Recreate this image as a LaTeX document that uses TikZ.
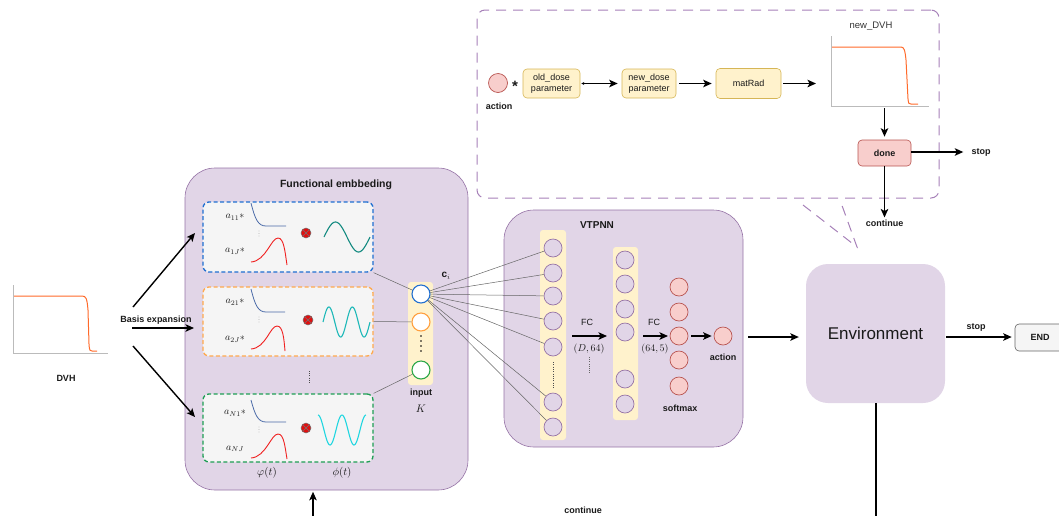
\documentclass[tikz,border=0pt]{standalone}
\usepackage{fontspec}
\setmainfont{Liberation Sans}
\usetikzlibrary{arrows.meta}
\definecolor{pfill}{HTML}{E1D5E7}
\definecolor{pline}{HTML}{9673A6}
\definecolor{yfill}{HTML}{FFF2CC}
\definecolor{yline}{HTML}{D6B656}
\definecolor{rfill}{HTML}{F8CECC}
\definecolor{rline}{HTML}{B85450}
\definecolor{gfill}{HTML}{F5F5F5}
\definecolor{gline}{HTML}{666666}
\definecolor{dashp}{HTML}{A680B8}
\definecolor{bdash}{HTML}{1F6FD1}
\definecolor{odash}{HTML}{FFA94D}
\definecolor{gdash}{HTML}{1E9E55}
\definecolor{dvhor}{HTML}{FF6A2A}
\definecolor{axg}{HTML}{BBBBBB}
\definecolor{basb}{HTML}{4A6AA8}
\definecolor{basr}{HTML}{F02020}
\definecolor{wone}{HTML}{138A80}
\definecolor{wtwo}{HTML}{1DB8B8}
\definecolor{wthree}{HTML}{1FD6E0}
\definecolor{otim}{HTML}{E01010}
\definecolor{cblue}{HTML}{2370D0}
\definecolor{corange}{HTML}{FFA040}
\definecolor{cgreen}{HTML}{2EA84A}
\definecolor{txt}{HTML}{1A1A1A}
\begin{document}
\begin{tikzpicture}[x=1pt,y=-1pt, font=\fontsize{9}{11}\selectfont, text=txt,
  lbl/.style={font=\fontsize{9}{11}\selectfont\bfseries, inner sep=0},
  mlbl/.style={font=\fontsize{10}{12}\selectfont, inner sep=0},
  arr/.style={line width=1.4pt, -{Stealth[length=8.5pt,width=7.5pt,inset=2pt]}},
  conn/.style={draw=black!60, line width=0.5pt},
  purplebox/.style={draw=pline, fill=pfill, rounded corners=30pt, inner sep=0, line width=0.6pt},
  nbox/.style={fill=gfill, rounded corners=6pt, dash pattern=on 4pt off 2.5pt, line width=1.3pt, inner sep=0, minimum width=170pt},
  pcirc/.style={circle, draw=pline, fill=pfill, minimum size=18pt, inner sep=0, line width=0.7pt},
  rcirc/.style={circle, draw=rline, fill=rfill, minimum size=18pt, inner sep=0, line width=0.7pt},
  incirc/.style={circle, fill=white, minimum size=18pt, inner sep=0, line width=1.1pt},
  ycol/.style={fill=yfill, rounded corners=3pt, inner sep=0},
  ybox/.style={draw=yline, fill=yfill, rounded corners=4pt, inner sep=0, line width=0.6pt, align=center, font=\fontsize{9}{10.5}\selectfont},
  otimes/.style={circle, fill=otim, draw=black!55, line width=0.5pt, minimum size=10pt, inner sep=0,
     path picture={\draw[black!55, line width=0.5pt] (path picture bounding box.north west) -- (path picture bounding box.south east)
       (path picture bounding box.north east) -- (path picture bounding box.south west);}},
  basb/.style={draw=basb, line width=0.8pt},
  basr/.style={draw=basr, line width=0.9pt}
]
\useasboundingbox (0,0) rectangle (1059,515);
\clip (0,0) rectangle (1059,515);

% ---------------- DVH ----------------
\draw[axg, line width=0.7pt] (13,285) -- (13,353) -- (108,353);
\draw[dvhor, line width=1pt] (14,296) -- (82,296) .. controls (86,296) and (87,298) .. (88,310) -- (89,344) .. controls (89.5,351) and (90,351) .. (92,351) -- (97,351);
\node[lbl] (dvh) at (66,378) {DVH};
\coordinate (be1) at (133,307);
\coordinate (be1t) at (195,233);
\coordinate (be2) at (132,328);
\coordinate (be2t) at (194,328);
\coordinate (be3) at (133,346);
\coordinate (be3t) at (195,417);

% ---------------- Functional embedding ----------------
\node[purplebox, minimum width=283pt, minimum height=322pt] (fe) at (326.5,329) {};
\node[lbl, font=\fontsize{10.5}{12}\selectfont\bfseries] (fetitle) at (336,185) {Functional embbeding};
\node[lbl] (bexp) at (156,320) {Basis expansion};
\draw[arr] (be1) -- (be1t);
\draw[arr] (be2) -- (be2t);
\draw[arr] (be3) -- (be3t);

\node[nbox, draw=bdash, minimum height=70pt] (b1) at (288,237) {};
\node[nbox, draw=odash, minimum height=69pt] (b2) at (288,321.5) {};
\node[nbox, draw=gdash, minimum height=68pt] (b3) at (288,428) {};

% box 1
\begin{scope}[shift={(0,202)}]
  \draw[basb] (251,1) .. controls (255,17) and (258,24) .. (266,24) -- (286,24);
  \foreach \d in {29,31.5,34} \fill[black!45] (259,\d) circle (0.45);
  \draw[basr] (251,60) .. controls (266,59) and (271,36) .. (278,36) .. controls (284,36) and (285,50) .. (287,63);
  \node[mlbl] (a11) at (235,15) {$a_{11}*$};
  \node[mlbl] (a1J) at (235,49) {$a_{1J}*$};
  \node[otimes] (ox1) at (306,31) {};
\end{scope}
\draw[wone, line width=1.1pt] plot[domain=0:1, samples=60, smooth] ({324+46*\x},{237-15*sin(360*\x)});

% box 2
\begin{scope}[shift={(0,287)}]
  \draw[basb] (251,2) .. controls (255,18) and (258,25) .. (266,25) -- (285,25);
  \foreach \d in {30,32.5,35} \fill[black!45] (259,\d) circle (0.45);
  \draw[basr] (251,62) .. controls (266,61) and (270,39) .. (277,39) .. controls (283,39) and (284,52) .. (285,64);
  \node[mlbl] (a21) at (235,15) {$a_{21}*$};
  \node[mlbl] (a2J) at (235,52) {$a_{2J}*$};
  \node[otimes] (ox2) at (308,33) {};
\end{scope}
\draw[wtwo, line width=1.1pt] plot[domain=0:1, samples=80, smooth] ({323+47*\x},{322-15*sin(720*\x)});

% box 3
\begin{scope}[shift={(0,394)}]
  \draw[basb] (251,6) .. controls (255,21) and (258,28) .. (266,28) -- (286,28);
  \foreach \d in {33,35.5,38} \fill[black!45] (259,\d) circle (0.45);
  \draw[basr] (251,64) .. controls (266,63) and (271,40) .. (278,40) .. controls (284,40) and (285,53) .. (287,65);
  \node[mlbl] (aN1) at (235,19) {$a_{N1}*$};
  \node[mlbl] (aNJ) at (235,55) {$a_{NJ}$};
  \node[otimes] (ox3) at (306,34) {};
\end{scope}
\draw[wthree, line width=1.1pt] plot[domain=0:1, samples=80, smooth] ({318+48*\x},{430-15*cos(720*\x)});

\draw[black!70, line width=0.9pt, dash pattern=on 0.9pt off 1.3pt] (309,371) -- (309,383);
\node[mlbl, font=\fontsize{11}{13}\selectfont] (vphi) at (267,473) {$\varphi(t)$};
\node[mlbl, font=\fontsize{11}{13}\selectfont] (phi) at (342,473) {$\phi(t)$};

% input column
\node[ycol, minimum width=25pt, minimum height=103pt] (incol) at (420.5,333.5) {};
\node[incirc, draw=cblue] (in1) at (421,294) {};
\node[incirc, draw=corange] (in2) at (421,322) {};
\node[incirc, draw=cgreen] (in3) at (421,370) {};
\foreach \d in {336,341,346,351} \fill[black] (421,\d) circle (0.9);
\node[lbl] (inlbl) at (421,393) {input};
\node[mlbl, font=\fontsize{11}{13}\selectfont] (klbl) at (421,409) {$K$};
\node[mlbl, font=\fontsize{10}{12}\selectfont] (ci) at (446,276) {$\mathbf{c}_i$};

\draw[conn] (b1.south east) -- (in1);
\draw[conn] (b2.east) -- (in2);
\draw[conn] (b3.north east) -- (in3);

% ---------------- VTPNN ----------------
\node[purplebox, minimum width=239pt, minimum height=237pt] (vt) at (623.5,328.5) {};
\node[lbl, font=\fontsize{10}{12}\selectfont\bfseries] (vttitle) at (597,225) {VTPNN};
\node[ycol, minimum width=26pt, minimum height=210pt] (col1) at (553,335) {};
\node[ycol, minimum width=25pt, minimum height=173pt] (col2) at (625.5,333.5) {};
\foreach \i/\y in {1/248,2/273,3/296,4/321,5/347,6/402,7/427}
  \node[pcirc] (c\i) at (553,\y) {};
\foreach \i/\y in {1/260,2/284,3/309,4/332,5/379,6/404}
  \node[pcirc] (d\i) at (625,\y) {};
\foreach \i/\y in {1/287,2/312,3/336,4/360,5/386}
  \node[rcirc] (r\i) at (679,\y) {};
\node[rcirc] (act) at (723,336) {};
\draw[black!70, line width=0.9pt, dash pattern=on 0.9pt off 1.4pt] (553,362) -- (553,388);
\draw[black!60, line width=0.8pt, dash pattern=on 0.8pt off 1.4pt] (589,357) -- (589,374);
\foreach \i in {1,...,7} \draw[conn] (in1) -- (c\i);

\coordinate (fa1) at (572,336);
\coordinate (fa1t) at (607,336);
\coordinate (fa2) at (643,336);
\coordinate (fa2t) at (668,336);
\draw[arr] (fa1) -- (fa1t);
\draw[arr] (fa2) -- (fa2t);
\node[inner sep=0] (fc1) at (587,322) {FC};
\node[mlbl] (fc1m) at (589,349) {$(D,64)$};
\node[inner sep=0] (fc2) at (654,322) {FC};
\node[mlbl] (fc2m) at (655,349) {$(64,5)$};
\draw[arr, shorten <=3pt, shorten >=2pt] (r3) -- (act);
\node[lbl] (smax) at (680,408) {softmax};
\node[lbl] (actlbl) at (723,357) {action};

% ---------------- Environment ----------------
\node[fill=pfill, rounded corners=22pt, minimum width=139pt, minimum height=139pt, inner sep=0,
      font=\fontsize{17}{20}\selectfont] (env) at (875.5,333.5) {Environment};
\coordinate (va) at (748,337);
\draw[arr, shorten >=7pt] (va) -- (env.west |- va);
\node[fill=gfill, draw=gline, line width=0.6pt, rounded corners=4pt, minimum width=50pt, minimum height=27pt, inner sep=0] (endb) at (1040,337.5) {};
\node[lbl] (endt) at (1040,337.5) {END};
\coordinate (es) at (946,337);
\draw[arr, shorten >=3pt] (es) -- (endb.west |- es);
\node[lbl] (stop1) at (976,327) {stop};
\coordinate (bot) at (876,520);
\draw[line width=1.4pt] (env.south -| bot) -- (bot);
\coordinate (fb) at (313,520);
\draw[arr, shorten >=1.5pt] (fb) -- (fb |- fe.south);
\node[lbl] (cont2) at (583,510) {continue};

% ---------------- Top dashed box ----------------
\node[draw=dashp, dash pattern=on 10pt off 7pt, line width=1pt, rounded corners=8pt, minimum width=462pt, minimum height=188pt, inner sep=0] (topbox) at (708,104) {};
\coordinate (cl1) at (803,205);
\coordinate (cl2) at (840,200);
\coordinate (clt) at (857,247);
\draw[dashp, dash pattern=on 10pt off 7pt, line width=1pt] (cl1) -- (clt) -- (cl2);

\node[rcirc, minimum size=19pt] (ta) at (498,83) {};
\node[font=\fontsize{15}{15}\selectfont\bfseries, inner sep=0] (star) at (515,86) {*};
\node[lbl] (talbl) at (499,106) {action};
\node[ybox, minimum width=57pt, minimum height=29pt] (old) at (551.5,83.5) {old\_dose\\parameter};
\node[ybox, minimum width=54pt, minimum height=29pt] (new) at (649,83.5) {new\_dose\\parameter};
\node[ybox, minimum width=65pt, minimum height=30pt] (mat) at (748.5,83.5) {matRad};
\draw[line width=1.4pt, {Stealth[length=3pt,width=3pt]}-{Stealth[length=8.5pt,width=7.5pt,inset=2pt]}, shorten <=1pt, shorten >=4pt] (old) -- (new);
\draw[arr, shorten <=3pt, shorten >=4pt] (new) -- (mat);
\coordinate (dvhin) at (816,83.5);
\draw[arr, shorten <=2pt] (mat) -- (dvhin);

\node[inner sep=0, font=\fontsize{9.5}{11}\selectfont, text=black!80] (ndvh) at (871,26) {new\_DVH};
\draw[axg, line width=0.7pt] (831,36) -- (831,106) -- (929,106);
\draw[dvhor, line width=1pt] (832,47) -- (901,47) .. controls (904,47) and (905,50) .. (906,60) -- (908,99) .. controls (908.5,104) and (909,104) .. (911,104) -- (918,104);

\node[draw=rline, fill=rfill, line width=0.6pt, rounded corners=4pt, minimum width=53pt, minimum height=26pt, inner sep=0, font=\fontsize{9}{11}\selectfont\bfseries] (done) at (884.5,153) {done};
\coordinate (dvhout) at (884.5,108);
\draw[arr, shorten >=3pt] (dvhout) -- (done);
\node[lbl] (stop2) at (981,152) {stop};
\draw[arr, shorten >=8pt] (done.east |- stop2) -- (stop2);
\node[lbl] (cont1) at (884.5,223) {continue};
\draw[arr, shorten >=2pt] (done) -- (cont1);
\end{tikzpicture}
\end{document}
